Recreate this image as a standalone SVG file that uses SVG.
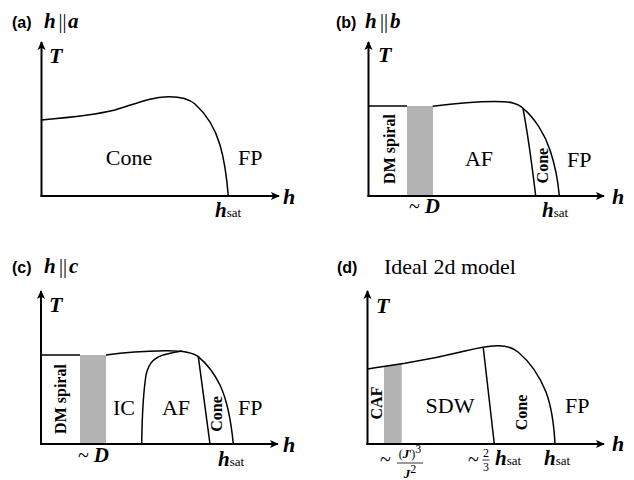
<svg xmlns="http://www.w3.org/2000/svg" width="634" height="480" viewBox="0 0 634 480">
<defs>
<marker id="arr" viewBox="0 0 10 10" refX="9" refY="5" markerWidth="10" markerHeight="9" markerUnits="userSpaceOnUse" orient="auto">
<path d="M0,0.5 L10,5 L0,9.5 L2.5,5 Z" fill="#000"/>
</marker>
</defs>
<style>
.ax{fill:none;stroke:#000;stroke-width:2;marker-end:url(#arr)}
.cv{fill:none;stroke:#000;stroke-width:1.5}
.gr{fill:#b3b3b3;stroke:none}
.pl{font-family:"Liberation Sans",Arial,sans-serif;font-weight:bold;font-size:16px}
.bi{font-family:"Liberation Serif","Times New Roman",serif;font-weight:bold;font-style:italic;font-size:21px}
.ta{font-family:"Liberation Serif","Times New Roman",serif;font-weight:bold;font-style:italic;font-size:22px}
.pp{font-family:"Liberation Serif","Times New Roman",serif;font-size:20px}
.rg{font-family:"Liberation Serif","Times New Roman",serif;font-size:22px}
.rb{font-family:"Liberation Serif","Times New Roman",serif;font-weight:bold;font-size:16px}
.sb{font-family:"Liberation Serif","Times New Roman",serif;font-size:13px}
.fr{font-family:"Liberation Serif","Times New Roman",serif;font-size:12px}
.fb{font-family:"Liberation Serif","Times New Roman",serif;font-weight:bold;font-style:italic;font-size:13px}
</style>

<g id="panel-a">
<text class="pl" x="12" y="28">(a)</text>
<text class="bi" x="44" y="28">h</text>
<text class="pp" x="58.5" y="28">||</text>
<text class="bi" x="68" y="28">a</text>
<path class="cv" d="M41.5,120 C75,117 95,115 115,110 C135,104 150,97 168,96.7 C180,96.5 188,98 195,104 C205,113 215,128 220,145 C225,162 227,180 228.3,196"/>
<text class="rg" x="129" y="165" text-anchor="middle">Cone</text>
<text class="rg" x="238" y="165">FP</text>
<text class="ta" x="49" y="63">T</text>
<text class="ta" x="283" y="204">h</text>
<text x="215" y="216.5"><tspan class="bi">h</tspan><tspan class="sb">sat</tspan></text>
</g>

<g id="panel-b">
<text class="pl" x="336" y="28">(b)</text>
<text class="bi" x="365" y="28">h</text>
<text class="pp" x="380" y="28">||</text>
<text class="bi" x="390" y="28">b</text>
<rect class="gr" x="407" y="106" width="26" height="90"/>
<path class="cv" d="M368.5,106 H407"/>
<path class="cv" d="M432.7,106.3 C450,104 475,101.5 495,101.5 C510,101.5 518,103 523,108.3 C535,118 545,135 550,150 C555,165 558,180 559.3,196"/>
<path class="cv" d="M523,108.3 C528,135 532,165 535.7,196"/>
<text class="rb" transform="translate(394.5,149) rotate(-90)" text-anchor="middle">DM spiral</text>
<text class="rg" x="479" y="166" text-anchor="middle">AF</text>
<text class="rb" transform="translate(548,165.6) rotate(-90)" text-anchor="middle">Cone</text>
<text class="rg" x="567" y="166.5">FP</text>
<text class="ta" x="378" y="62">T</text>
<text class="ta" x="612" y="204">h</text>
<text x="409" y="213"><tspan class="pp">~ </tspan><tspan class="bi">D</tspan></text>
<text x="542" y="216.5"><tspan class="bi">h</tspan><tspan class="sb">sat</tspan></text>
</g>

<g id="panel-c">
<text class="pl" x="12" y="273">(c)</text>
<text class="bi" x="44" y="273">h</text>
<text class="pp" x="59" y="273">||</text>
<text class="bi" x="69" y="273">c</text>
<rect class="gr" x="80" y="355" width="26" height="89"/>
<path class="cv" d="M41,355 H80"/>
<path class="cv" d="M106,355 C120,353 140,351 165,350.7 C180,350.5 192,351.5 198.3,356.7 C207,364 215,375 220,385 C227,400 231,420 233.3,444"/>
<path class="cv" d="M141.7,444 C142,420 143,395 146,375 C149,362 155,357 165,354.5 C172,352.5 178,351.5 182,351"/>
<path class="cv" d="M198.3,356.7 L210,444"/>
<text class="rb" transform="translate(65.5,399) rotate(-90)" text-anchor="middle">DM spiral</text>
<text class="rg" x="113" y="415">IC</text>
<text class="rg" x="176" y="415" text-anchor="middle">AF</text>
<text class="rb" transform="translate(221.5,414) rotate(-90)" text-anchor="middle">Cone</text>
<text class="rg" x="238" y="415">FP</text>
<text class="ta" x="49" y="312">T</text>
<text class="ta" x="283" y="452">h</text>
<text x="78" y="462"><tspan class="pp">~ </tspan><tspan class="bi">D</tspan></text>
<text x="218" y="466"><tspan class="bi">h</tspan><tspan class="sb">sat</tspan></text>
</g>

<g id="panel-d">
<text class="pl" x="337" y="273">(d)</text>
<text class="rg" x="384" y="274">Ideal 2d model</text>
<path class="gr" d="M384,366 L401.7,363.5 L401.7,444 L384,444 Z"/>
<path class="cv" d="M367.5,369 C380,367 395,364.5 405,363.2 C425,360 445,356 465,351 C477,348 487,346 497,345.7 C505,345.5 512,347 518,352 C530,362 540,377 546,392 C552,408 554,425 555,444"/>
<path class="cv" d="M483.3,348 L494.3,444"/>
<text class="rb" transform="translate(381.5,403) rotate(-90)" text-anchor="middle">CAF</text>
<text class="rg" x="450" y="413.3" text-anchor="middle">SDW</text>
<text class="rb" transform="translate(526.5,412.5) rotate(-90)" text-anchor="middle">Cone</text>
<text class="rg" x="565" y="413">FP</text>
<text class="ta" x="376" y="313">T</text>
<text class="ta" x="612" y="451">h</text>
<text class="pp" x="380" y="466">~</text>
<text x="410" y="458" text-anchor="middle"><tspan class="fr">(</tspan><tspan class="fb">J</tspan><tspan class="fr">')</tspan><tspan class="fr" font-size="9" dy="-5">3</tspan></text>
<path d="M397,463 H423" stroke="#000" stroke-width="0.8"/>
<text x="410" y="478" text-anchor="middle"><tspan class="fb">J</tspan><tspan class="fr" font-size="9" dy="-5">2</tspan></text>
<text class="pp" x="468" y="466">~</text>
<text class="fr" x="486" y="457" text-anchor="middle">2</text>
<path d="M482.5,460 H489.5" stroke="#000" stroke-width="0.8"/>
<text class="fr" x="486" y="471" text-anchor="middle">3</text>
<text x="495" y="465"><tspan class="bi">h</tspan><tspan class="sb">sat</tspan></text>
<text x="544" y="465"><tspan class="bi">h</tspan><tspan class="sb">sat</tspan></text>
</g>

<g id="connectors">
<path class="ax" d="M41.5,197 V42"/>
<path class="ax" d="M40.5,196 H279"/>
<path class="ax" d="M368.5,197 V42"/>
<path class="ax" d="M367.5,196 H604"/>
<path class="ax" d="M41,445 V291"/>
<path class="ax" d="M40,444 H278"/>
<path class="ax" d="M367.5,445 V291"/>
<path class="ax" d="M366.5,444 H604"/>
</g>
</svg>
